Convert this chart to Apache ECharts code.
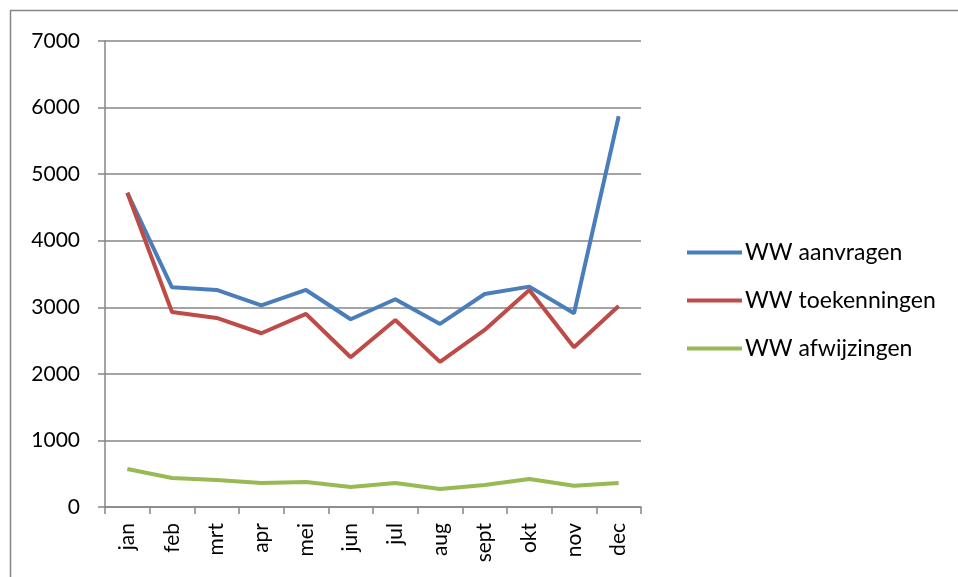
<!DOCTYPE html>
<html>
<head>
<meta charset="utf-8">
<script src="https://cdn.jsdelivr.net/npm/echarts@6/dist/echarts.min.js"></script>
<style>
  html, body { margin: 0; padding: 0; background: #fff; }
  #chart { width: 958px; height: 577px; }
</style>
</head>
<body>
<div id="chart"></div>
<script>
// maanden
var maanden = ["jan", "feb", "mrt", "apr", "mei", "jun", "jul", "aug", "sept", "okt", "nov", "dec"];

// WW cijfers per maand
var aanvragen = [4720, 3300, 3260, 3030, 3260, 2820, 3120, 2750, 3200, 3310, 2910, 5870];
var toekenningen = [4720, 2930, 2840, 2610, 2900, 2250, 2810, 2180, 2660, 3260, 2400, 3020];
var afwijzingen = [570, 435, 405, 360, 375, 300, 360, 270, 330, 420, 320, 360];

var fontFam = "Lato, 'Open Sans', sans-serif";
var grijs = "#868686";

var mychart = echarts.init(document.getElementById("chart"));

var option = {
  backgroundColor: "#fff",
  animation: false,
  graphic: [{
    // rand van het kader (alleen boven en links zichtbaar)
    type: "polyline",
    shape: { points: [[10.5, 600], [10.5, 10.5], [980, 10.5]] },
    style: { fill: null, stroke: grijs, lineWidth: 1.5 }
  }],
  grid: { left: 105, right: 317, top: 41, bottom: 70 },
  legend: {
    orient: "vertical",
    left: 682,
    top: 236,
    icon: "rect",
    itemWidth: 55,
    itemHeight: 4,
    itemGap: 25,
    textStyle: { fontFamily: fontFam, fontSize: 23, color: "#000", padding: [0, 0, 0, -2] },
    data: ["WW aanvragen", "WW toekenningen", "WW afwijzingen"]
  },
  xAxis: {
    type: "category",
    data: maanden,
    boundaryGap: true,
    axisLine: { lineStyle: { color: grijs, width: 1.5 } },
    axisTick: { show: true, length: 7, lineStyle: { color: grijs, width: 1.5 } },
    axisLabel: { rotate: 90, fontFamily: fontFam, fontSize: 21, color: "#000", margin: 16 }
  },
  yAxis: {
    type: "value",
    min: 0,
    max: 7000,
    interval: 1000,
    axisLine: { show: true, lineStyle: { color: grijs, width: 1.5 } },
    axisTick: { show: true, length: 7, lineStyle: { color: grijs, width: 1.5 } },
    axisLabel: {
      fontFamily: fontFam, fontSize: 21, color: "#000", margin: 25,
      formatter: function (v) { return String(v); }
    },
    splitLine: { lineStyle: { color: grijs, width: 1.5 } }
  },
  series: [
    {
      name: "WW aanvragen",
      type: "line",
      data: aanvragen,
      symbol: "none",
      color: "#4a7ebb",
      lineStyle: { width: 4, color: "#4a7ebb" }
    },
    {
      name: "WW toekenningen",
      type: "line",
      data: toekenningen,
      symbol: "none",
      color: "#be4b48",
      lineStyle: { width: 4, color: "#be4b48" }
    },
    {
      name: "WW afwijzingen",
      type: "line",
      data: afwijzingen,
      symbol: "none",
      color: "#98b954",
      lineStyle: { width: 4, color: "#98b954" }
    }
  ]
};

mychart.setOption(option);
</script>
</body>
</html>
